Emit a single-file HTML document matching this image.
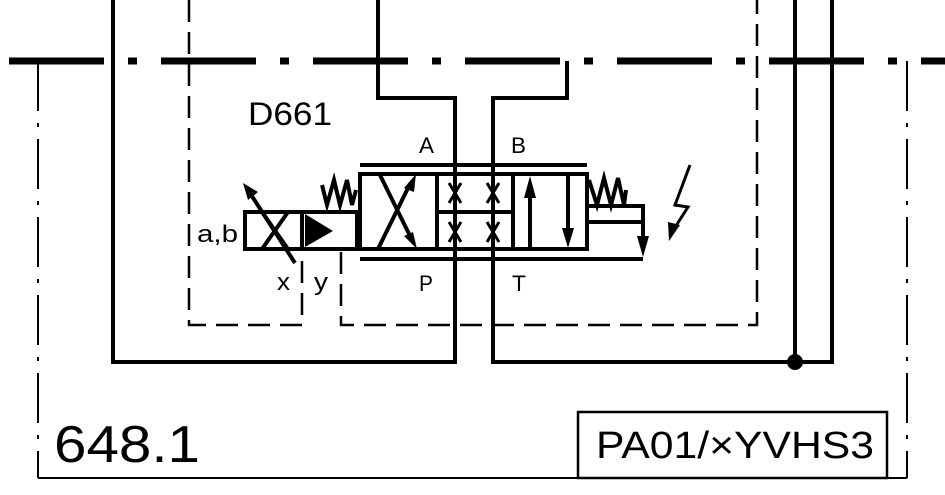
<!DOCTYPE html>
<html><head><meta charset="utf-8"><style>html,body{margin:0;padding:0;background:#fff}svg{display:block}</style></head><body>
<svg width="945" height="495" viewBox="0 0 945 495" xmlns="http://www.w3.org/2000/svg" font-family="Liberation Sans, sans-serif">
<g stroke="#000" fill="none">
<line x1="5" y1="61" x2="945" y2="61" stroke-width="7" stroke-dasharray="95 24 9 24" stroke-dashoffset="-4"/>
<line x1="38" y1="61" x2="38" y2="478" stroke-width="2" stroke-dasharray="50 12 4 12"/>
<line x1="907" y1="61" x2="907" y2="478" stroke-width="2" stroke-dasharray="50 12 4 12"/>
<line x1="38" y1="478" x2="907" y2="478" stroke-width="2"/>
<g stroke-width="4">
<polyline points="113,0 113,362 455,362 455,98 378,98 378,0"/>
<polyline points="567,61 567,98 493,98 493,362 795,362"/>
<line x1="795" y1="0" x2="795" y2="362"/>
<polyline points="832,0 832,362 795,362"/>
</g>
<circle cx="795" cy="362" r="8" fill="#000" stroke="none"/>
<g stroke-width="2.5" stroke-dasharray="22 10">
<polyline points="189,0 189,325 302,325 302,250"/>
<polyline points="341,252 341,325 757,325 757,0"/>
</g>
<g stroke-width="4">
<line x1="360" y1="165" x2="587" y2="165"/>
<line x1="360" y1="259" x2="643" y2="259"/>
<rect x="360" y="174" width="227" height="75"/>
<line x1="437" y1="174" x2="437" y2="249"/>
<line x1="513" y1="174" x2="513" y2="249"/>
<line x1="437" y1="212" x2="513" y2="212"/>
<rect x="245" y="212" width="112" height="37"/>
<line x1="302" y1="212" x2="302" y2="249"/>
<line x1="262" y1="212" x2="288" y2="249"/>
<line x1="288" y1="212" x2="262" y2="249"/>
<line x1="380" y1="175" x2="412" y2="240"/>
<line x1="378" y1="249" x2="410" y2="184"/>
<line x1="295" y1="263" x2="248" y2="190"/>
<line x1="530" y1="249" x2="530" y2="190"/>
<line x1="568" y1="174" x2="568" y2="232"/>
<polyline points="587,206 643,206 643,240"/>
<line x1="587" y1="222" x2="643" y2="222"/>
<polyline points="322,185 327,205 334,180 340,205 347,180 352,205 356,190"/>
<polyline points="589,180 597,205 604,178 611,205 618,178 624,205 626,190"/>
<polyline points="690,165 675,205 688,207 672,232" stroke-width="3"/>
</g>
<g stroke-width="3">
<path d="M449,183 l6,10 l6,-10 M449,203 l6,-10 l6,10 M487,183 l6,10 l6,-10 M487,203 l6,-10 l6,10"/>
<path d="M449,222 l6,10 l6,-10 M449,242 l6,-10 l6,10 M487,222 l6,10 l6,-10 M487,242 l6,-10 l6,10"/>
</g>
</g>
<g fill="#000">
<polygon points="305,214 333,231 305,247"/>
<polygon points="417,249 404,236 413,232"/>
<polygon points="416,174 414,192 404,188"/>
<polygon points="243,183 258,192 248,200"/>
<polygon points="530,176 524,198 536,198"/>
<polygon points="568,248 562,228 574,228"/>
<polygon points="643,257 637,236 649,236"/>
<polygon points="669,241 668,222 680,225"/>
</g>
<g fill="#000">
<text x="248" y="125" font-size="32" textLength="84" lengthAdjust="spacingAndGlyphs">D661</text>
<text x="419" y="153" font-size="22" textLength="15" lengthAdjust="spacingAndGlyphs">A</text>
<text x="511" y="153" font-size="22" textLength="15" lengthAdjust="spacingAndGlyphs">B</text>
<text x="419" y="291" font-size="22" textLength="14" lengthAdjust="spacingAndGlyphs">P</text>
<text x="512" y="291" font-size="22" textLength="14" lengthAdjust="spacingAndGlyphs">T</text>
<text x="197" y="242" font-size="24" textLength="41" lengthAdjust="spacingAndGlyphs">a,b</text>
<text x="277" y="290" font-size="24" textLength="13" lengthAdjust="spacingAndGlyphs">x</text>
<text x="314" y="290" font-size="24" textLength="14" lengthAdjust="spacingAndGlyphs">y</text>
<text x="54" y="462" font-size="52" textLength="146" lengthAdjust="spacingAndGlyphs">648.1</text>
<text x="596" y="458" font-size="38" textLength="278" lengthAdjust="spacingAndGlyphs">PA01/×YVHS3</text>
</g>
<rect x="578" y="412" width="309" height="66" fill="none" stroke="#000" stroke-width="2.5"/>
</svg>
</body></html>
